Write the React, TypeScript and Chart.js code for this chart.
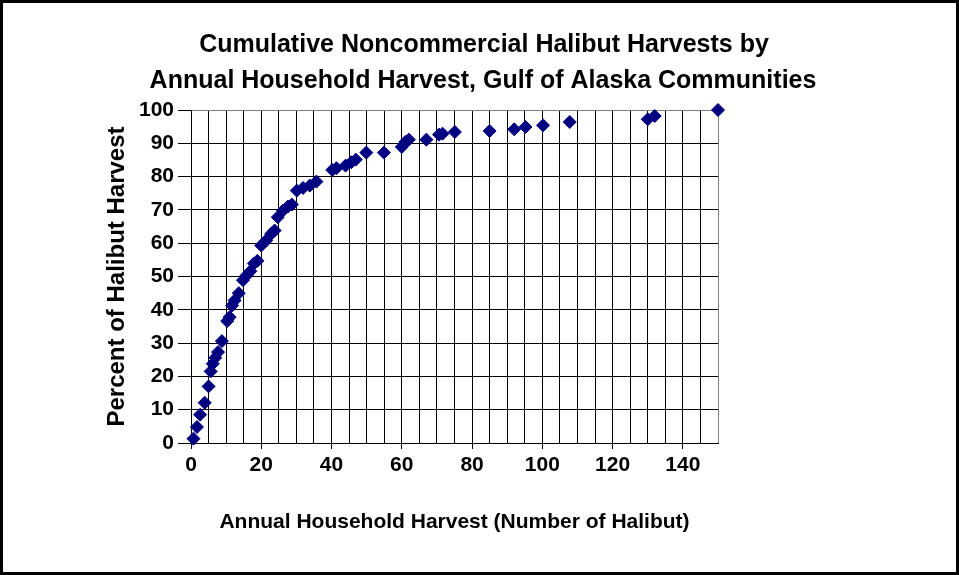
import React, { useEffect, useRef } from "react";
import { Chart, registerables } from "chart.js";

Chart.register(...registerables);

const titleLines = [
  "Cumulative Noncommercial Halibut Harvests by",
  "Annual Household Harvest, Gulf of Alaska Communities",
];
const xAxisTitle = "Annual Household Harvest (Number of Halibut)";
const yAxisTitle = "Percent of Halibut Harvest";

const harvestNumber = [
  0.7, 1.7, 2.6, 3.9, 5.0, 5.6, 6.2, 6.9, 7.7, 8.8, 10.3, 11.0, 11.7, 12.4,
  13.6, 14.8, 15.8, 16.9, 17.9, 18.9, 20.0, 21.4, 22.8, 23.8, 24.7, 26.2,
  27.6, 28.7, 30.1, 31.9, 33.8, 35.7, 40.2, 41.4, 44.0, 45.6, 46.9, 49.9,
  54.9, 60.0, 61.0, 62.0, 67.0, 70.6, 71.6, 75.1, 85.0, 92.0, 95.2, 100.2,
  107.8, 130.0, 132.0, 150.0,
];
const cumulativePercent = [
  1.3, 4.8, 8.5, 12.1, 17.0, 21.5, 23.8, 25.6, 27.3, 30.6, 36.6, 37.8, 41.3,
  42.8, 45.0, 48.9, 50.3, 51.6, 53.9, 54.7, 59.3, 60.8, 62.8, 63.8, 67.8,
  69.8, 71.0, 71.6, 75.8, 76.6, 77.3, 78.5, 82.0, 82.5, 83.3, 84.3, 85.1,
  87.2, 87.2, 88.9, 90.4, 91.1, 91.1, 92.6, 92.9, 93.4, 93.7, 94.2, 94.9,
  95.4, 96.4, 97.2, 98.2, 100.0,
];

const xMin = 0;
const xMax = 150;
const xGridStep = 5;
const xLabelStep = 20;
const yMin = 0;
const yMax = 100;
const yStep = 10;

const FONT = "'Liberation Sans', Arial, Helvetica, sans-serif";

export default function App() {
  const ref = useRef<HTMLCanvasElement>(null);

  useEffect(() => {
    const framePlugin = {
      id: "frameAndTitle",
      beforeDraw(chart: any) {
        const ctx = chart.ctx;
        ctx.save();
        ctx.fillStyle = "#ffffff";
        ctx.fillRect(0, 0, chart.width, chart.height);
        ctx.restore();
      },
      afterDraw(chart: any) {
        const ctx = chart.ctx;
        ctx.save();
        ctx.fillStyle = "#000000";
        ctx.font = `bold 25px ${FONT}`;
        ctx.textAlign = "center";
        ctx.textBaseline = "middle";
        ctx.fillText(titleLines[0], 484, 45);
        ctx.fillText(titleLines[1], 483, 81);
        ctx.lineWidth = 3;
        ctx.strokeStyle = "#000000";
        ctx.strokeRect(1.5, 1.5, chart.width - 3, chart.height - 3);
        ctx.restore();
      },
    };

    const chart = new Chart(ref.current as HTMLCanvasElement, {
      type: "scatter",
      data: {
        datasets: [
          {
            data: harvestNumber.map((x, i) => ({ x, y: cumulativePercent[i] })),
            pointStyle: "rectRot",
            pointRadius: 6.5,
            backgroundColor: "#000080",
            borderColor: "#000080",
            borderWidth: 1,
            clip: false,
          },
        ],
      },
      options: {
        responsive: false,
        animation: false,
        layout: { padding: { left: 8, right: 241, top: 110, bottom: 8 } },
        plugins: {
          legend: { display: false },
          tooltip: { enabled: false },
          title: { display: false },
        },
        scales: {
          x: {
            type: "linear",
            min: xMin,
            max: xMax,
            afterFit: (s: any) => {
              s.height = 124;
            },
            ticks: {
              stepSize: xGridStep,
              autoSkip: false,
              maxRotation: 0,
              minRotation: 0,
              padding: 4,
              color: "#000000",
              font: { family: FONT, size: 21, weight: "bold" },
              callback: (v: any) => (Number(v) % xLabelStep === 0 ? String(v) : ""),
            },
            grid: {
              color: (c: any) =>
                c.tick && c.tick.value === xMax ? "#808080" : "#000000",
              tickColor: (c: any) =>
                c.tick && c.tick.value % xLabelStep === 0 && c.tick.value !== xMax
                  ? "#000000"
                  : "rgba(0,0,0,0)",
              tickLength: 6,
              lineWidth: 1,
            },
            border: { color: "#000000", width: 1 },
            title: {
              display: true,
              text: xAxisTitle,
              color: "#000000",
              font: { family: FONT, size: 21, weight: "bold" },
              padding: { top: 0, bottom: 32 },
            },
          },
          y: {
            type: "linear",
            min: yMin,
            max: yMax,
            afterFit: (s: any) => {
              s.width = 183;
            },
            ticks: {
              stepSize: yStep,
              padding: 4,
              color: "#000000",
              font: { family: FONT, size: 21, weight: "bold" },
            },
            grid: {
              color: (c: any) =>
                c.tick && c.tick.value === yMax ? "#808080" : "#000000",
              tickColor: "#000000",
              tickLength: 13,
              lineWidth: 1,
            },
            border: { color: "#000000", width: 1 },
            title: {
              display: true,
              text: yAxisTitle,
              color: "#000000",
              font: { family: FONT, size: 24, weight: "bold" },
              padding: { top: 95, bottom: 0 },
            },
          },
        },
      },
      plugins: [framePlugin],
    } as any);

    return () => chart.destroy();
  }, []);

  return (
    <div style={{ position: "absolute", left: 0, top: 0, width: 959, height: 575 }}>
      <canvas ref={ref} width={959} height={575} style={{ display: "block" }} />
    </div>
  );
}
